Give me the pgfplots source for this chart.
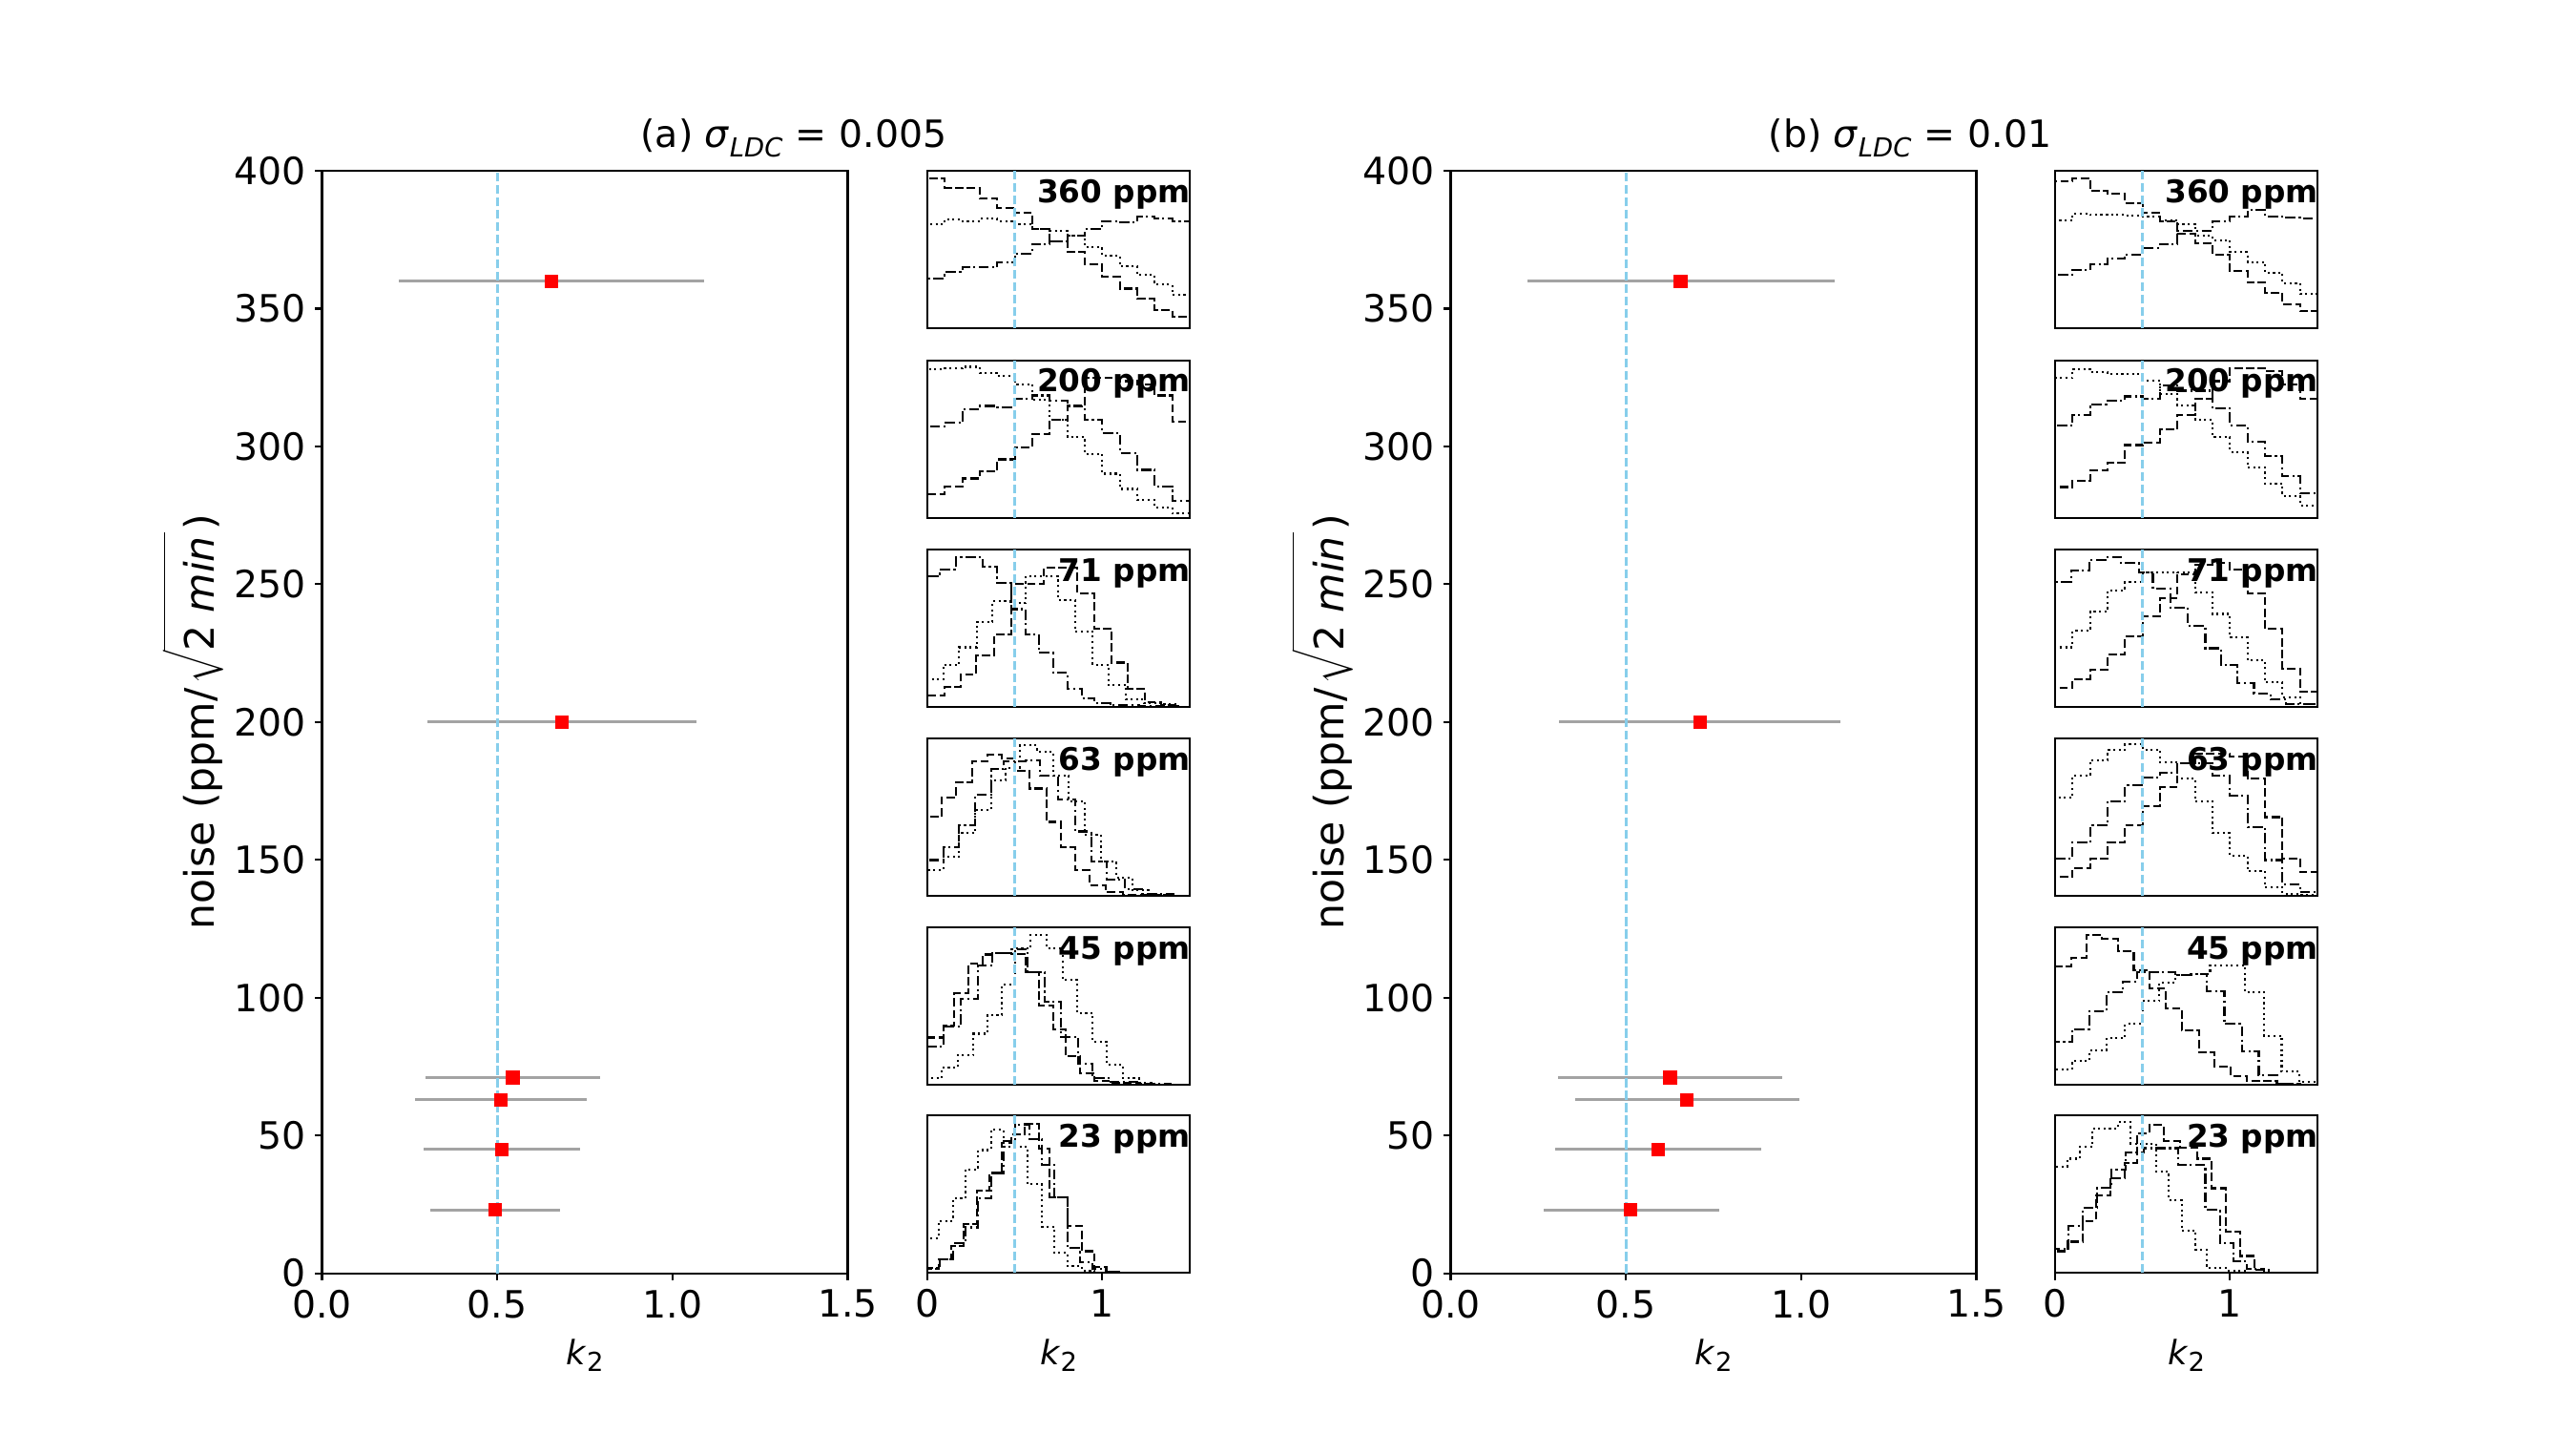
\documentclass[border=0pt]{standalone}
\usepackage{pgfplots}
\pgfplotsset{compat=1.18}
\usepackage{fontspec}
\setmainfont{DejaVu Sans}
\definecolor{skyblue}{HTML}{87CEEB}
\definecolor{errgray}{HTML}{A3A3A3}
\newcommand{\fs}{\fontsize{11.2}{13.4}\selectfont}
\newcommand{\fy}{\fontsize{12.1}{14.5}\selectfont}
\newcommand{\fb}{\fontsize{9.3}{11}\selectfont\bfseries}
\newcommand{\ktwo}{\textit{k}\raisebox{-0.22em}{\fontsize{7.8}{9}\selectfont 2}}
\pgfplotsset{
 hd/.style={black, line width=0.6pt, dash pattern=on 2.5pt off 1.0pt, mark=none, const plot},
 ho/.style={black, line width=0.6pt, dash pattern=on 0.6pt off 1.0pt, mark=none, const plot},
 hdd/.style={black, line width=0.6pt, dash pattern=on 3.0pt off 1.0pt on 0.6pt off 1.0pt, mark=none, const plot},
 vl/.style={skyblue, line width=0.9pt, dash pattern=on 2.6pt off 1.1pt, mark=none},
 ebar/.style={draw=none, mark=none, error bars/.cd, x dir=both, x explicit, error mark=none,
   error bar style={draw=errgray, line width=0.85pt, solid}},
 rmark/.style={red, only marks, mark=square*, mark size=1.9pt, mark options={solid, fill=red, draw=red, line width=0.2pt}},
 mainax/.style={scale only axis, width=55.1mm, height=115.56mm,
   xmin=0, xmax=1.5, ymin=0, ymax=400,
   xtick={0,0.5,1,1.5}, ytick={0,50,...,400},
   xticklabel style={/pgf/number format/fixed, /pgf/number format/fixed zerofill, /pgf/number format/precision=1},
   tick align=outside, tick pos=left, major tick length=0.75mm,
   axis line style={line width=0.6pt}, every tick/.append style={black, line width=0.6pt},
   tick label style={font=\fs, inner sep=0pt},
   xticklabel shift=0.92mm, yticklabel shift=0.9mm,
   /pgf/number format/assume math mode=true,
   label style={font=\fs},
   every axis x label/.style={at={(axis description cs:0.5,-0.0826)}, anchor=base},
   every axis y label/.style={at={(axis description cs:-0.2042,0.5)}, rotate=90, anchor=base},
   xlabel={\ktwo}, ylabel={\fy noise (ppm/\hspace{0.1em}$\sqrt{\rule{0pt}{0.95em}\mbox{\fy 2\hspace{0.3em}\textit{min}}\hspace{0.1em}}$\hspace{0.05em})},
   clip mode=individual},
 histax/.style={scale only axis, width=27.5mm, height=16.5mm,
   xmin=0, xmax=1.5, ymin=0, ymax=1, xtick=\empty, ytick=\empty,
   axis line style={line width=0.6pt}, clip mode=individual},
 histbot/.style={histax, xtick={0,1}, tick align=outside, tick pos=left, major tick length=0.75mm,
   every tick/.append style={black, line width=0.6pt},
   tick label style={font=\fs, inner sep=0pt}, xticklabel shift=0.92mm,
   /pgf/number format/assume math mode=true, label style={font=\fs},
   every axis x label/.style={at={(axis description cs:0.5,-0.58)}, anchor=base},
   xlabel={\ktwo}},
}
\begin{document}
\begin{tikzpicture}
\useasboundingbox (0,0) rectangle (270mm,150mm);
\node[anchor=base, font=\fs, inner sep=0pt] at (83.2mm,134.5mm) {(a) \textit{σ}\raisebox{-0.25em}{\fontsize{7.8}{9}\selectfont\itshape LDC}\,\,=\,\,0.005};
\node[anchor=base, font=\fs, inner sep=0pt] at (200.2mm,134.5mm) {(b) \textit{σ}\raisebox{-0.25em}{\fontsize{7.8}{9}\selectfont\itshape LDC}\,\,=\,\,0.01};

% ================= (a) main =================
\begin{axis}[mainax, at={(33.75mm,16.54mm)}]
\addplot[ebar] coordinates {
 (0.655,360) -= (0.437,0) += (0.435,0)
 (0.684,200) -= (0.384,0) += (0.385,0)
 (0.544,71) -= (0.248,0) += (0.249,0)
 (0.510,63) -= (0.245,0) += (0.246,0)
 (0.513,45) -= (0.222,0) += (0.223,0)
 (0.493,23) -= (0.185,0) += (0.186,0)};
\addplot[vl] coordinates {(0.5,0) (0.5,400)};
\addplot[rmark] coordinates {(0.655,360) (0.684,200) (0.544,71) (0.510,63) (0.513,45) (0.493,23)};
\end{axis}

% (a) 360
\begin{axis}[histax, at={(97.2mm,115.57mm)}]
\addplot[hd] coordinates {(0,0)(0,0.956)(0.1,0.895)(0.2,0.895)(0.3,0.824)(0.4,0.768)(0.5,0.733)(0.6,0.632)(0.7,0.556)(0.8,0.485)(0.9,0.406)(1.0,0.329)(1.1,0.253)(1.2,0.188)(1.3,0.117)(1.4,0.077)(1.5,0.077)(1.5,0)};
\addplot[ho] coordinates {(0,0)(0,0.663)(0.1,0.693)(0.2,0.683)(0.3,0.697)(0.4,0.683)(0.5,0.663)(0.6,0.632)(0.7,0.622)(0.8,0.592)(0.9,0.515)(1.0,0.461)(1.1,0.394)(1.2,0.339)(1.3,0.279)(1.4,0.212)(1.5,0.212)(1.5,0)};
\addplot[hdd] coordinates {(0,0)(0,0.319)(0.1,0.360)(0.2,0.390)(0.3,0.390)(0.4,0.420)(0.5,0.477)(0.6,0.537)(0.7,0.552)(0.8,0.588)(0.9,0.632)(1.0,0.683)(1.1,0.677)(1.2,0.713)(1.3,0.697)(1.4,0.683)(1.5,0.683)(1.5,0)};
\addplot[vl] coordinates {(0.5,0) (0.5,1)};
\node[anchor=base east, inner sep=0pt, font=\fb] at (rel axis cs:1.005,0.80) {360 ppm};
\end{axis}
% (a) 200
\begin{axis}[histax, at={(97.2mm,95.73mm)}]
\addplot[hd] coordinates {(0,0)(0,0.148)(0.1,0.199)(0.2,0.250)(0.3,0.294)(0.4,0.371)(0.5,0.448)(0.6,0.529)(0.7,0.620)(0.8,0.710)(0.9,0.888)(1.0,0.888)(1.1,0.868)(1.2,0.848)(1.3,0.777)(1.4,0.609)(1.5,0.609)(1.5,0)};
\addplot[ho] coordinates {(0,0)(0,0.945)(0.1,0.949)(0.2,0.959)(0.3,0.919)(0.4,0.899)(0.5,0.848)(0.6,0.751)(0.7,0.625)(0.8,0.513)(0.9,0.406)(1.0,0.280)(1.1,0.183)(1.2,0.114)(1.3,0.067)(1.4,0.026)(1.5,0.026)(1.5,0)};
\addplot[hdd] coordinates {(0,0)(0,0.580)(0.1,0.604)(0.2,0.690)(0.3,0.710)(0.4,0.702)(0.5,0.757)(0.6,0.777)(0.7,0.746)(0.8,0.706)(0.9,0.621)(1.0,0.538)(1.1,0.412)(1.2,0.304)(1.3,0.199)(1.4,0.108)(1.5,0.108)(1.5,0)};
\addplot[vl] coordinates {(0.5,0) (0.5,1)};
\node[anchor=base east, inner sep=0pt, font=\fb] at (rel axis cs:1.005,0.80) {200 ppm};
\end{axis}
% (a) 71
\begin{axis}[histax, at={(97.2mm,75.9mm)}]
\addplot[hd] coordinates {(0,0)(0,0.071)(0.1,0.127)(0.19,0.208)(0.28,0.325)(0.38,0.458)(0.48,0.782)(0.664,0.883)(0.855,0.722)(0.955,0.496)(1.055,0.282)(1.145,0.113)(1.245,0.032)(1.336,0.010)(1.436,0.010)(1.436,0)};
\addplot[ho] coordinates {(0,0)(0,0.177)(0.091,0.268)(0.182,0.379)(0.282,0.540)(0.373,0.671)(0.473,0.661)(0.564,0.833)(0.745,0.681)(0.845,0.480)(0.945,0.268)(1.036,0.137)(1.136,0.046)(1.236,0.026)(1.336,0.016)(1.436,0.016)(1.436,0)};
\addplot[hdd] coordinates {(0,0)(0,0.829)(0.073,0.873)(0.164,0.950)(0.318,0.893)(0.4,0.788)(0.482,0.621)(0.564,0.460)(0.636,0.345)(0.718,0.218)(0.8,0.117)(0.882,0.056)(0.955,0.022)(1.045,0.010)(1.209,0.006)(1.436,0.006)(1.436,0)};
\addplot[vl] coordinates {(0.5,0) (0.5,1)};
\node[anchor=base east, inner sep=0pt, font=\fb] at (rel axis cs:1.005,0.80) {71 ppm};
\end{axis}
% (a) 63
\begin{axis}[histax, at={(97.2mm,56.1mm)}]
\addplot[hd] coordinates {(0,0)(0,0.504)(0.082,0.626)(0.164,0.719)(0.255,0.854)(0.345,0.895)(0.427,0.874)(0.5,0.794)(0.582,0.682)(0.682,0.470)(0.764,0.308)(0.845,0.162)(0.927,0.065)(1.018,0.024)(1.118,0.008)(1.409,0.008)(1.409,0)};
\addplot[ho] coordinates {(0,0)(0,0.166)(0.091,0.247)(0.182,0.399)(0.273,0.545)(0.364,0.733)(0.445,0.814)(0.527,0.955)(0.627,0.915)(0.718,0.763)(0.809,0.601)(0.9,0.389)(0.991,0.217)(1.082,0.115)(1.173,0.034)(1.264,0.014)(1.409,0.014)(1.409,0)};
\addplot[hdd] coordinates {(0,0)(0,0.227)(0.091,0.308)(0.182,0.449)(0.273,0.642)(0.364,0.804)(0.436,0.854)(0.564,0.860)(0.645,0.763)(0.745,0.611)(0.845,0.409)(0.936,0.217)(1.027,0.105)(1.127,0.045)(1.227,0.014)(1.409,0.014)(1.409,0)};
\addplot[vl] coordinates {(0.5,0) (0.5,1)};
\node[anchor=base east, inner sep=0pt, font=\fb] at (rel axis cs:1.005,0.80) {63 ppm};
\end{axis}
% (a) 45
\begin{axis}[histax, at={(97.2mm,36.27mm)}]
\addplot[hd] coordinates {(0,0)(0,0.302)(0.091,0.376)(0.155,0.584)(0.236,0.773)(0.318,0.829)(0.382,0.839)(0.482,0.833)(0.564,0.718)(0.636,0.507)(0.718,0.356)(0.791,0.185)(0.873,0.074)(0.955,0.028)(1.036,0.014)(1.209,0.014)(1.209,0)};
\addplot[ho] coordinates {(0,0)(0,0.044)(0.082,0.109)(0.173,0.189)(0.264,0.326)(0.345,0.447)(0.427,0.638)(0.5,0.869)(0.591,0.954)(0.682,0.869)(0.773,0.668)(0.855,0.457)(0.945,0.276)(1.027,0.129)(1.118,0.044)(1.209,0.014)(1.282,0.014)(1.282,0)};
\addplot[hdd] coordinates {(0,0)(0,0.245)(0.091,0.370)(0.191,0.547)(0.291,0.759)(0.373,0.839)(0.482,0.863)(0.573,0.718)(0.673,0.527)(0.764,0.306)(0.864,0.135)(0.945,0.044)(1.045,0.020)(1.209,0.008)(1.391,0.008)(1.391,0)};
\addplot[vl] coordinates {(0.5,0) (0.5,1)};
\node[anchor=base east, inner sep=0pt, font=\fb] at (rel axis cs:1.005,0.80) {45 ppm};
\end{axis}
% (a) 23
\begin{axis}[histbot, at={(97.2mm,16.57mm)}]
\addplot[hd] coordinates {(0,0)(0,0.026)(0.064,0.087)(0.136,0.172)(0.209,0.310)(0.282,0.523)(0.355,0.635)(0.427,0.828)(0.482,0.878)(0.555,0.949)(0.636,0.790)(0.7,0.483)(0.8,0.300)(0.882,0.138)(0.955,0.037)(1.027,0.010)(1.1,0.010)(1.1,0)};
\addplot[ho] coordinates {(0,0)(0,0.219)(0.064,0.331)(0.145,0.473)(0.218,0.659)(0.291,0.781)(0.364,0.909)(0.436,0.801)(0.573,0.564)(0.655,0.294)(0.727,0.128)(0.8,0.043)(0.882,0.016)(0.955,0.016)(0.955,0)};
\addplot[hdd] coordinates {(0,0)(0,0.030)(0.073,0.087)(0.145,0.189)(0.218,0.290)(0.291,0.473)(0.364,0.635)(0.436,0.838)(0.5,0.939)(0.582,0.848)(0.655,0.686)(0.727,0.483)(0.8,0.158)(0.873,0.067)(0.945,0.026)(1.018,0.006)(1.1,0.006)(1.1,0)};
\addplot[vl] coordinates {(0.5,0) (0.5,1)};
\node[anchor=base east, inner sep=0pt, font=\fb] at (rel axis cs:1.005,0.80) {23 ppm};
\end{axis}

% ================= (b) main =================
\begin{axis}[mainax, at={(152.05mm,16.54mm)}]
\addplot[ebar] coordinates {
 (0.656,360) -= (0.437,0) += (0.440,0)
 (0.711,200) -= (0.402,0) += (0.402,0)
 (0.626,71) -= (0.319,0) += (0.321,0)
 (0.673,63) -= (0.319,0) += (0.322,0)
 (0.591,45) -= (0.294,0) += (0.294,0)
 (0.513,23) -= (0.249,0) += (0.254,0)};
\addplot[vl] coordinates {(0.5,0) (0.5,400)};
\addplot[rmark] coordinates {(0.656,360) (0.711,200) (0.626,71) (0.673,63) (0.591,45) (0.513,23)};
\end{axis}

% (b) 360
\begin{axis}[histax, at={(215.4mm,115.57mm)}]
\addplot[hd] coordinates {(0,0)(0,0.935)(0.1,0.956)(0.2,0.875)(0.3,0.855)(0.4,0.794)(0.5,0.733)(0.6,0.683)(0.7,0.602)(0.8,0.539)(0.9,0.469)(1.0,0.364)(1.1,0.291)(1.2,0.226)(1.3,0.156)(1.4,0.109)(1.5,0.109)(1.5,0)};
\addplot[ho] coordinates {(0,0)(0,0.689)(0.1,0.729)(0.2,0.723)(0.3,0.723)(0.4,0.717)(0.5,0.713)(0.6,0.689)(0.7,0.665)(0.8,0.588)(0.9,0.562)(1.0,0.485)(1.1,0.420)(1.2,0.354)(1.3,0.289)(1.4,0.218)(1.5,0.218)(1.5,0)};
\addplot[hdd] coordinates {(0,0)(0,0.339)(0.1,0.374)(0.2,0.406)(0.3,0.444)(0.4,0.471)(0.5,0.511)(0.6,0.537)(0.7,0.620)(0.8,0.620)(0.9,0.683)(1.0,0.709)(1.1,0.754)(1.2,0.713)(1.3,0.703)(1.4,0.697)(1.5,0.697)(1.5,0)};
\addplot[vl] coordinates {(0.5,0) (0.5,1)};
\node[anchor=base east, inner sep=0pt, font=\fb] at (rel axis cs:1.005,0.80) {360 ppm};
\end{axis}
% (b) 200
\begin{axis}[histax, at={(215.4mm,95.73mm)}]
\addplot[hd] coordinates {(0,0)(0,0.195)(0.1,0.235)(0.2,0.300)(0.3,0.351)(0.4,0.462)(0.5,0.479)(0.6,0.564)(0.7,0.655)(0.8,0.757)(0.9,0.868)(1.0,0.949)(1.1,0.949)(1.2,0.929)(1.3,0.848)(1.4,0.757)(1.5,0.757)(1.5,0)};
\addplot[ho] coordinates {(0,0)(0,0.888)(0.1,0.945)(0.2,0.925)(0.3,0.913)(0.4,0.913)(0.5,0.872)(0.6,0.785)(0.7,0.714)(0.8,0.621)(0.9,0.513)(1.0,0.418)(1.1,0.320)(1.2,0.219)(1.3,0.138)(1.4,0.077)(1.5,0.077)(1.5,0)};
\addplot[hdd] coordinates {(0,0)(0,0.584)(0.1,0.655)(0.2,0.722)(0.3,0.746)(0.4,0.771)(0.5,0.757)(0.6,0.838)(0.7,0.807)(0.8,0.807)(0.9,0.696)(1.0,0.588)(1.1,0.483)(1.2,0.391)(1.3,0.264)(1.4,0.158)(1.5,0.158)(1.5,0)};
\addplot[vl] coordinates {(0.5,0) (0.5,1)};
\node[anchor=base east, inner sep=0pt, font=\fb] at (rel axis cs:1.005,0.80) {200 ppm};
\end{axis}
% (b) 71
\begin{axis}[histax, at={(215.4mm,75.9mm)}]
\addplot[hd] coordinates {(0,0)(0,0.121)(0.1,0.177)(0.2,0.238)(0.3,0.333)(0.4,0.446)(0.5,0.575)(0.6,0.692)(0.7,0.843)(0.8,0.903)(0.9,0.913)(1.0,0.873)(1.1,0.722)(1.2,0.496)(1.3,0.244)(1.4,0.097)(1.5,0.097)(1.5,0)};
\addplot[ho] coordinates {(0,0)(0,0.379)(0.1,0.484)(0.2,0.607)(0.3,0.742)(0.4,0.792)(0.5,0.857)(0.6,0.857)(0.7,0.853)(0.8,0.728)(0.9,0.591)(1.0,0.440)(1.1,0.298)(1.2,0.157)(1.3,0.063)(1.4,0.016)(1.5,0.016)(1.5,0)};
\addplot[hdd] coordinates {(0,0)(0,0.796)(0.091,0.869)(0.196,0.933)(0.287,0.950)(0.378,0.913)(0.478,0.853)(0.559,0.752)(0.659,0.631)(0.759,0.514)(0.859,0.373)(0.950,0.268)(1.041,0.151)(1.137,0.087)(1.231,0.046)(1.322,0.016)(1.5,0.016)(1.5,0)};
\addplot[vl] coordinates {(0.5,0) (0.5,1)};
\node[anchor=base east, inner sep=0pt, font=\fb] at (rel axis cs:1.005,0.80) {71 ppm};
\end{axis}
% (b) 63
\begin{axis}[histax, at={(215.4mm,56.1mm)}]
\addplot[hd] coordinates {(0,0)(0,0.119)(0.1,0.176)(0.2,0.237)(0.3,0.338)(0.4,0.449)(0.5,0.571)(0.6,0.692)(0.7,0.844)(0.8,0.905)(0.9,0.905)(1.0,0.885)(1.1,0.743)(1.2,0.500)(1.3,0.237)(1.4,0.152)(1.5,0.152)(1.5,0)};
\addplot[ho] coordinates {(0,0)(0,0.626)(0.1,0.763)(0.2,0.860)(0.3,0.925)(0.4,0.962)(0.5,0.929)(0.6,0.848)(0.7,0.747)(0.8,0.601)(0.9,0.399)(1.0,0.257)(1.1,0.156)(1.2,0.055)(1.3,0.014)(1.4,0.008)(1.5,0.008)(1.5,0)};
\addplot[hdd] coordinates {(0,0)(0,0.237)(0.1,0.338)(0.2,0.449)(0.3,0.601)(0.4,0.702)(0.5,0.753)(0.6,0.783)(0.7,0.844)(0.8,0.844)(0.9,0.763)(1.0,0.638)(1.1,0.439)(1.2,0.227)(1.3,0.075)(1.4,0.024)(1.5,0.024)(1.5,0)};
\addplot[vl] coordinates {(0.5,0) (0.5,1)};
\node[anchor=base east, inner sep=0pt, font=\fb] at (rel axis cs:1.005,0.80) {63 ppm};
\end{axis}
% (b) 45
\begin{axis}[histax, at={(215.4mm,36.27mm)}]
\addplot[hd] coordinates {(0,0)(0,0.752)(0.091,0.808)(0.178,0.954)(0.269,0.929)(0.360,0.848)(0.450,0.727)(0.541,0.616)(0.632,0.489)(0.723,0.347)(0.823,0.206)(0.913,0.117)(1.004,0.057)(1.095,0.024)(1.268,0.010)(1.4,0.010)(1.4,0)};
\addplot[ho] coordinates {(0,0)(0,0.097)(0.096,0.152)(0.196,0.222)(0.296,0.299)(0.4,0.388)(0.5,0.535)(0.596,0.651)(0.686,0.697)(0.777,0.707)(0.886,0.758)(1.086,0.590)(1.195,0.313)(1.295,0.085)(1.395,0.020)(1.5,0.020)(1.5,0)};
\addplot[hdd] coordinates {(0,0)(0,0.273)(0.096,0.354)(0.196,0.469)(0.296,0.590)(0.387,0.657)(0.468,0.717)(0.686,0.697)(0.777,0.707)(0.868,0.596)(0.968,0.388)(1.068,0.212)(1.164,0.061)(1.268,0.010)(1.4,0.010)(1.4,0)};
\addplot[vl] coordinates {(0.5,0) (0.5,1)};
\node[anchor=base east, inner sep=0pt, font=\fb] at (rel axis cs:1.005,0.80) {45 ppm};
\end{axis}
% (b) 23
\begin{axis}[histbot, at={(215.4mm,16.57mm)}]
\addplot[hd] coordinates {(0,0)(0,0.138)(0.069,0.199)(0.160,0.331)(0.232,0.493)(0.314,0.604)(0.396,0.700)(0.468,0.888)(0.541,0.939)(0.623,0.838)(0.714,0.797)(0.814,0.726)(0.895,0.538)(0.977,0.260)(1.059,0.108)(1.140,0.022)(1.222,0.022)(1.222,0)};
\addplot[ho] coordinates {(0,0)(0,0.675)(0.069,0.726)(0.142,0.801)(0.214,0.919)(0.360,0.959)(0.432,0.822)(0.577,0.645)(0.650,0.462)(0.723,0.270)(0.804,0.148)(0.868,0.030)(0.977,0.016)(1.1,0.016)(1.1,0)};
\addplot[hdd] coordinates {(0,0)(0,0.152)(0.078,0.300)(0.160,0.416)(0.242,0.544)(0.323,0.655)(0.405,0.767)(0.505,0.793)(0.705,0.686)(0.859,0.402)(0.941,0.189)(1.022,0.077)(1.095,0.026)(1.195,0.026)(1.195,0)};
\addplot[vl] coordinates {(0.5,0) (0.5,1)};
\node[anchor=base east, inner sep=0pt, font=\fb] at (rel axis cs:1.005,0.80) {23 ppm};
\end{axis}
\end{tikzpicture}
\end{document}
